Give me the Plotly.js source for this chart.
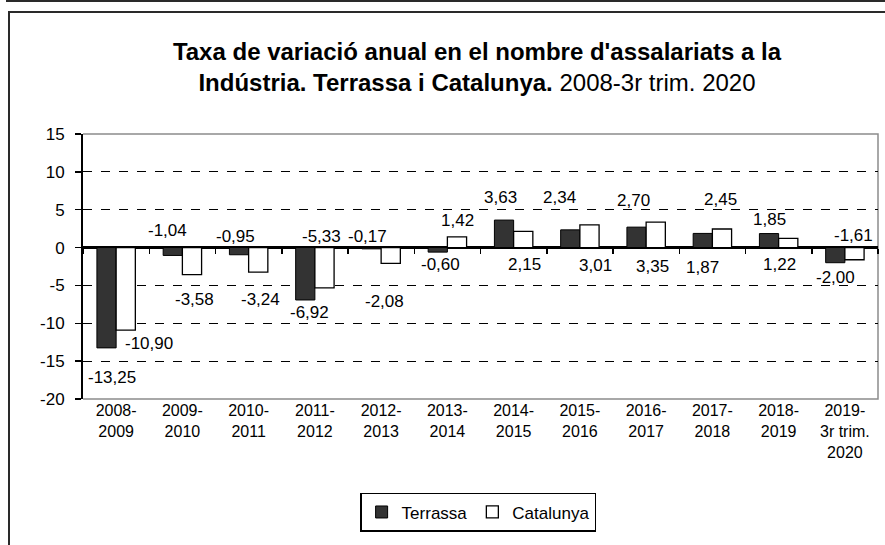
<!DOCTYPE html>
<html>
<head>
<meta charset="utf-8">
<script src="https://cdn.plot.ly/plotly-3.0.1.min.js"></script>
<style>
  html, body { margin: 0; padding: 0; background: #fff; }
  #wrap { position: relative; width: 885px; height: 545px; overflow: hidden; }
  #chart { position: absolute; left: 0; top: 0; width: 885px; height: 545px; }
  .line { position: absolute; background: #2a2a2a; pointer-events: none; }
</style>
</head>
<body>
<div id="wrap">
  <div id="chart"></div>
  <div class="line" style="left:6px; top:0px; width:879px; height:2px;"></div>
  <div class="line" style="left:8px; top:11px; width:877px; height:2px;"></div>
  <div class="line" style="left:8px; top:11px; width:2px; height:534px;"></div>
</div>
<script>
// ---- data ----
const categories = [
  '2008-<br>2009', '2009-<br>2010', '2010-<br>2011', '2011-<br>2012',
  '2012-<br>2013', '2013-<br>2014', '2014-<br>2015', '2015-<br>2016',
  '2016-<br>2017', '2017-<br>2018', '2018-<br>2019', '2019-<br>3r trim.<br>2020'
];
const terrassa  = [-13.25, -1.04, -0.95, -6.92, -0.17, -0.60, 3.63, 2.34, 2.70, 1.87, 1.85, -2.00];
const catalunya = [-10.90, -3.58, -3.24, -5.33, -2.08, 1.42, 2.15, 3.01, 3.35, 2.45, 1.22, -1.61];
const seriesNames = ['Terrassa', 'Catalunya'];
const yTickValues = [-20, -15, -10, -5, 0, 5, 10, 15];
const yTickLabels = ['-20', '-15', '-10', '-5', '0', '5', '10', '15'];

// ---- style: label offsets (pixels) relative to bar end, as placed in the original ----
const terrassaLabelDx  = [5, -5, -4, 4, -4, 3, -4, -11, -3, 0, 0, 0];
const terrassaLabelDy  = [-30, 25, 18, -13, 12, -12, 23, 32, 27, -34, 14, -15];
const catalunyaLabelDx = [23, 3, 2, -3, -6, 1, 1, 6, -3, -1, -9, -1];
const catalunyaLabelDy = [-13, -25, -27, 51, -38, 16, -33, -41, -44, 30, -26, 24];

const FONT = 'Liberation Sans, Arial, Helvetica, sans-serif';
const W = 885, H = 545;
const margin = {l: 83, r: 7, t: 134, b: 146};
const plotW = W - margin.l - margin.r;
const yRange = [-20, 15];
const bargap = 0.42;
const halfBar = (plotW / categories.length) * (1 - bargap) / 4;

const fmt = v => v.toFixed(2).replace('.', ',');

const traces = [
  {
    type: 'bar', name: seriesNames[0], x: categories, y: terrassa,
    marker: {color: '#333333', line: {color: '#000000', width: 1}},
    hoverinfo: 'skip'
  },
  {
    type: 'bar', name: seriesNames[1], x: categories, y: catalunya,
    marker: {color: '#ffffff', line: {color: '#000000', width: 1.3}},
    hoverinfo: 'skip'
  },
  {
    type: 'scatter', x: [], y: [], xaxis: 'x2', yaxis: 'y',
    showlegend: false, hoverinfo: 'skip'
  }
];

const labelFont = {family: FONT, size: 17, color: '#000'};
const annotations = [];
categories.forEach((c, i) => {
  annotations.push({
    x: c, y: terrassa[i], xref: 'x', yref: 'y', text: fmt(terrassa[i]),
    showarrow: false, xshift: -halfBar + terrassaLabelDx[i], yshift: terrassaLabelDy[i],
    font: labelFont, xanchor: 'center', yanchor: 'middle'
  });
  annotations.push({
    x: c, y: catalunya[i], xref: 'x', yref: 'y', text: fmt(catalunya[i]),
    showarrow: false, xshift: halfBar + catalunyaLabelDx[i], yshift: catalunyaLabelDy[i],
    font: labelFont, xanchor: 'center', yanchor: 'middle'
  });
});

const zeroPos = (0 - yRange[0]) / (yRange[1] - yRange[0]);

const layout = {
  width: W, height: H,
  margin: margin,
  paper_bgcolor: '#ffffff',
  plot_bgcolor: '#ffffff',
  font: {family: FONT, size: 17, color: '#000'},
  title: {
    text: "<b>Taxa de variació anual en el nombre d'assalariats a la<br>Indústria. Terrassa i Catalunya.</b> 2008-3r trim. 2020",
    font: {family: FONT, size: 24, color: '#000'},
    xref: 'container', x: 0.539, xanchor: 'center',
    yref: 'container', y: 1 - 60 / H, yanchor: 'top'
  },
  barmode: 'group',
  bargap: bargap,
  bargroupgap: 0,
  showlegend: true,
  legend: {
    orientation: 'h',
    x: 0.497, xanchor: 'center',
    y: -0.428, yanchor: 'middle',
    bordercolor: '#000', borderwidth: 1.5,
    bgcolor: '#fff',
    font: {family: FONT, size: 17, color: '#000'},
    traceorder: 'normal'
  },
  xaxis: {
    type: 'category',
    showline: false, showgrid: false, zeroline: false,
    ticks: '', tickfont: {family: FONT, size: 16, color: '#000'},
    fixedrange: true
  },
  xaxis2: {
    overlaying: 'x', anchor: 'free', position: zeroPos, side: 'bottom',
    type: 'linear', range: [-0.5, categories.length - 0.5],
    tick0: 0.5, dtick: 1, ticks: 'outside', ticklen: 5, tickwidth: 1.5, tickcolor: '#000',
    showticklabels: false, showgrid: false, zeroline: false, showline: false
  },
  yaxis: {
    range: yRange,
    tickmode: 'array', tickvals: yTickValues, ticktext: yTickLabels,
    showline: true, linecolor: '#000', linewidth: 2,
    ticks: 'outside', ticklen: 6, tickwidth: 1.5, tickcolor: '#000',
    ticklabelstandoff: 7,
    tickfont: {family: FONT, size: 17, color: '#000'},
    showgrid: true, gridcolor: '#000', gridwidth: 1, griddash: 'dash',
    zeroline: true, zerolinecolor: '#000', zerolinewidth: 2.5,
    fixedrange: true
  },
  shapes: [
    {
      type: 'path', xref: 'paper', yref: 'paper',
      path: 'M 0 1 L 1 1 L 1 0 L 0 0',
      line: {color: '#8c8c8c', width: 1.5}, layer: 'below'
    }
  ],
  annotations: annotations
};

Plotly.newPlot('chart', traces, layout, {displayModeBar: false, staticPlot: true});
</script>
</body>
</html>
